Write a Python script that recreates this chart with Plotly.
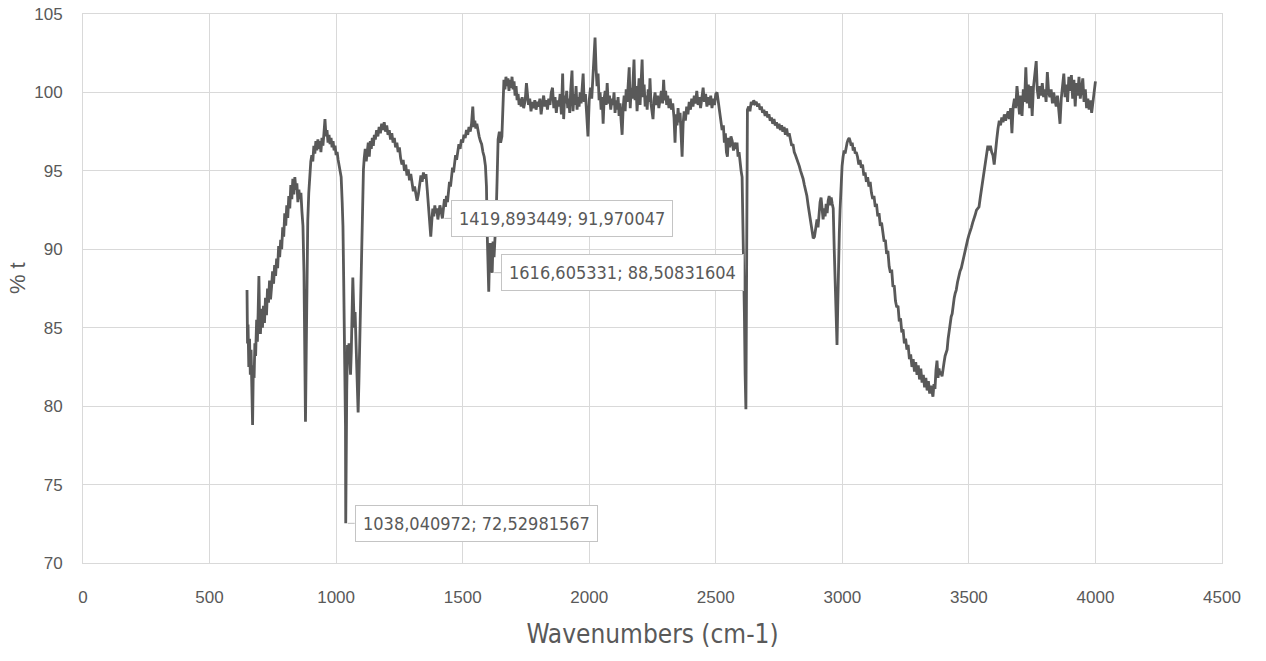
import plotly.graph_objects as go

wavenumbers = [
    648, 650, 652, 655, 658, 661, 664, 667, 670, 673, 676, 679, 682, 686, 689, 692, 695, 698, 701, 705,
    709, 713, 717, 721, 725, 729, 733, 737, 741, 745, 749, 753, 757, 761, 765, 769, 773, 777, 781, 785,
    789, 793, 797, 801, 805, 809, 813, 817, 821, 825, 829, 833, 837, 841, 845, 849, 853, 857, 861, 865,
    869, 873, 876, 879, 882, 885, 888, 892, 896, 900,
    904, 908, 912, 916, 920, 924, 928, 932, 936, 940, 944, 948, 952, 956, 960, 964, 968, 972, 976, 980,
    984, 988, 992, 996, 1000, 1004, 1008, 1012, 1016, 1020, 1024, 1027, 1030, 1033, 1035, 1037, 1038.04,
    1040, 1042, 1045, 1048, 1051, 1054, 1057, 1060, 1063, 1066, 1069, 1072, 1075, 1078, 1081, 1084, 1087,
    1090, 1093, 1096, 1099, 1102, 1105, 1108, 1111, 1115, 1119, 1123, 1127, 1131, 1135, 1139, 1143, 1147,
    1151, 1155, 1160, 1165, 1170, 1175, 1180, 1185, 1190, 1195, 1200, 1205, 1210, 1215, 1220, 1225, 1230,
    1235, 1240, 1245, 1250, 1255, 1260, 1265, 1270, 1275, 1280, 1285, 1290, 1295, 1300, 1305, 1310, 1315,
    1320, 1325, 1330, 1335, 1340, 1345, 1350, 1355, 1360, 1365, 1370, 1374, 1378, 1382, 1386, 1390, 1394,
    1398, 1402, 1406, 1410, 1415, 1419.89, 1424, 1428, 1432, 1436, 1440, 1444, 1448, 1452, 1456, 1460,
    1464, 1468, 1472, 1476, 1480, 1485, 1490, 1495, 1500, 1505, 1510, 1515, 1520, 1525, 1530, 1535, 1540,
    1544, 1548, 1552, 1556, 1560, 1565, 1570, 1575, 1580, 1585, 1590, 1594, 1597, 1600, 1603, 1606, 1609,
    1612, 1616.61, 1620, 1624, 1628, 1632, 1636, 1640, 1645, 1650, 1655, 1659, 1663, 1667, 1671, 1675,
    1679, 1683, 1687, 1691, 1695, 1699, 1703, 1707, 1711, 1715, 1719, 1723, 1727, 1731,
    1735, 1741, 1747, 1752, 1756, 1760, 1765, 1770, 1775, 1780, 1785, 1790, 1795, 1800, 1805, 1810, 1815,
    1820, 1825, 1830, 1835, 1840, 1845, 1850, 1855, 1860, 1865, 1870, 1875, 1880, 1885, 1890, 1895, 1899,
    1903, 1907, 1911, 1915, 1919, 1923, 1927, 1932, 1936, 1940, 1944, 1948, 1952, 1956, 1960, 1964, 1968,
    1972, 1976, 1980, 1985, 1990, 1995, 2000, 2005, 2010, 2015, 2019, 2023, 2027, 2031, 2035, 2039, 2043,
    2047, 2051, 2055, 2059, 2063, 2067, 2071, 2075, 2080, 2085, 2090, 2094, 2098, 2102, 2106, 2110, 2114,
    2118, 2122, 2126, 2130, 2134, 2138, 2142, 2146, 2150, 2154, 2158, 2162, 2166, 2170, 2174, 2177, 2181,
    2185, 2189, 2193, 2197, 2201, 2205, 2209, 2213, 2217, 2221, 2225, 2229, 2233, 2237, 2240, 2244, 2248,
    2252, 2256, 2260, 2265, 2270, 2275, 2280, 2285, 2290, 2294, 2298, 2302, 2306, 2310, 2315, 2320, 2325,
    2330, 2335, 2339, 2343, 2347, 2351, 2355, 2359, 2363, 2367, 2371, 2375, 2380, 2385, 2390, 2395, 2400,
    2405, 2410, 2415, 2420, 2425, 2430, 2435, 2440, 2445, 2450, 2455, 2460, 2465, 2470, 2475, 2480, 2485,
    2490, 2495, 2500, 2505, 2510, 2515, 2520, 2525, 2530, 2534, 2538, 2542, 2546, 2550, 2555, 2560, 2565,
    2570, 2575, 2580, 2584, 2588, 2592, 2596, 2600, 2604, 2607, 2610, 2613, 2616, 2619, 2621, 2623, 2625,
    2630, 2635, 2640, 2645, 2650, 2655, 2660, 2665, 2670, 2675, 2680, 2685, 2690, 2695, 2700, 2705, 2710,
    2715, 2720, 2725, 2730, 2735, 2740, 2745, 2750, 2755, 2760, 2765, 2770, 2775, 2780, 2785, 2790, 2795,
    2800, 2805, 2810, 2815, 2820, 2825, 2830, 2835, 2840, 2845, 2850, 2855, 2860, 2865, 2870, 2875, 2880,
    2885, 2890, 2895, 2900, 2904, 2908, 2912, 2916, 2920, 2924, 2928, 2932, 2936, 2940, 2944, 2948, 2952,
    2956, 2960, 2964, 2968, 2971, 2975, 2979, 2982, 2985, 2988, 2991, 2995, 2999, 3003, 3007, 3011, 3015,
    3019, 3023, 3027, 3031, 3035, 3039, 3043, 3047, 3051, 3055, 3060, 3065, 3070, 3075, 3080, 3085, 3090,
    3095, 3100, 3105, 3110, 3115, 3120, 3125, 3130, 3135, 3140, 3145, 3150, 3155, 3160, 3165, 3170, 3175,
    3180, 3185, 3190, 3195, 3200, 3205, 3210, 3215, 3220, 3225, 3230, 3235, 3240, 3245, 3250, 3255, 3260,
    3265, 3270, 3275, 3280, 3285, 3290, 3295, 3300, 3305, 3310, 3315, 3320, 3325, 3330, 3335, 3340, 3345,
    3350, 3355, 3358, 3362, 3366, 3370, 3374, 3378, 3382, 3386, 3390, 3394, 3398, 3402, 3406, 3410, 3414,
    3418, 3422, 3426, 3430, 3434, 3438, 3442, 3446, 3450, 3455, 3460, 3465, 3470, 3475, 3480, 3485, 3490,
    3495, 3500, 3505, 3510, 3515, 3520, 3525, 3530, 3535, 3540, 3545, 3550, 3555, 3560, 3565, 3570, 3575,
    3580, 3585, 3590, 3595, 3600, 3605, 3610, 3615, 3620, 3625, 3630, 3635, 3640, 3645, 3650, 3655, 3660,
    3665, 3670, 3675, 3680, 3685, 3690, 3695, 3700, 3705, 3710, 3715, 3720, 3725, 3730, 3735, 3740, 3745,
    3750, 3755, 3760, 3766, 3770, 3775, 3780, 3785, 3790, 3795, 3800, 3805, 3810, 3815, 3820, 3825, 3830,
    3835, 3840, 3845, 3850, 3855, 3860, 3865, 3870, 3875, 3880, 3885, 3890, 3895, 3900, 3905, 3910, 3915,
    3920, 3925, 3930, 3935, 3940, 3945, 3950, 3955, 3960, 3965, 3970, 3975, 3980, 3985, 3990, 3995, 4000,
]

transmittance = [
    87.4, 84.0, 85.2, 82.5, 84.3, 82.0, 83.6, 81.2, 78.8, 82.6, 81.8, 84.0, 83.2, 85.5, 84.1, 86.0, 88.3, 85.2, 84.6, 86.2,
    85.0, 86.4, 85.3, 86.9, 85.8, 87.5, 86.6, 88.0, 86.8, 87.6, 88.6, 87.8, 89.0, 88.3, 89.4, 88.8, 90.2, 89.5, 90.6, 90.0,
    91.4, 90.8, 92.3, 91.5, 92.8, 92.0, 93.4, 92.6, 94.1, 93.2, 94.5, 93.5, 94.6, 93.8, 94.2, 93.0, 93.8, 93.2, 93.6, 92.4,
    91.5, 88.5, 84.0, 79.0, 83.5, 88.6, 91.8, 93.6, 94.8, 95.6,
    96.0, 95.6, 96.6, 96.1, 96.9, 96.3, 97.0, 96.4, 96.9, 96.2, 97.1, 96.6, 97.4, 98.3, 97.2, 97.6, 96.8, 97.3, 96.7, 97.1,
    96.5, 96.9, 96.3, 96.6, 96.0, 96.2, 95.7, 95.4, 95.0, 94.6, 93.0, 91.5, 88.0, 84.5, 81.5, 78.7, 72.53,
    78.5, 81.0, 83.9, 83.2, 84.0, 82.5, 82.0, 83.5, 85.8, 88.2, 86.5, 85.0, 86.0, 84.0, 82.0, 80.4, 79.6,
    81.5, 84.0, 86.0, 88.5, 91.7, 94.0, 95.1, 95.8, 96.4, 95.6, 96.5, 96.8, 95.9, 96.9, 96.4, 97.1, 96.6,
    97.3, 97.0, 97.6, 97.2, 97.8, 97.4, 98.0, 97.6, 98.1, 97.5, 97.9, 97.3, 97.6, 97.0, 97.4, 96.8, 97.1,
    96.5, 96.8, 96.2, 96.5, 95.8, 95.4, 95.7, 95.0, 95.4, 94.7, 95.1, 94.4, 94.8, 94.1, 93.7, 94.0, 93.4,
    93.1, 93.5, 94.2, 94.7, 94.3, 94.9, 94.5, 94.8, 93.8, 92.8, 91.5, 90.8, 91.8, 92.6, 92.1, 92.8, 92.3,
    92.6, 91.9, 92.3, 92.8, 92.4, 91.97, 92.6, 93.2, 92.7, 93.4, 93.0, 93.6, 94.3, 94.0, 94.8, 95.2,
    94.9, 95.6, 96.0, 95.7, 96.3, 96.7, 96.4, 97.0, 96.8, 97.3, 97.1, 97.6, 97.3, 97.8, 97.5, 98.0, 99.1,
    97.8, 98.2, 97.7, 98.0, 97.6, 97.2, 96.9, 96.7, 96.2, 95.9, 95.3, 94.0, 91.0, 88.0, 87.3, 89.5, 90.4,
    88.9, 88.51, 90.5, 89.5, 90.8, 92.0, 94.4, 97.0, 97.5, 96.8, 97.2, 100.0, 100.8, 100.2, 101.0, 100.4,
    100.9, 100.1, 100.8, 100.3, 101.0, 100.2, 100.7, 99.8, 100.4, 99.5, 99.9, 99.2, 99.6, 99.1,
    99.7, 99.0, 99.5, 100.6, 99.8, 99.2, 99.6, 98.8, 99.4, 99.0, 99.5, 98.9, 99.4, 99.1, 99.6, 98.6, 99.3,
    99.8, 99.1, 99.5, 98.9, 99.6, 99.2, 100.0, 100.3, 99.0, 99.7, 98.7, 99.5, 99.1, 99.9, 98.6, 101.2, 98.3,
    99.8, 99.3, 100.1, 99.0, 99.6, 98.7, 100.2, 101.4, 98.8, 99.9, 99.2, 100.4, 98.9, 99.7, 99.1, 100.0, 99.3,
    100.8, 101.2, 99.4, 99.9, 98.6, 97.2, 99.5, 100.3, 99.6, 101.0, 101.8, 103.5, 101.5, 100.4, 101.2, 99.5, 100.0,
    98.9, 99.7, 98.0, 99.6, 100.1, 99.2, 100.6, 99.3, 99.8, 98.9, 99.6, 99.2, 100.0, 98.7, 99.5, 98.9, 99.7,
    98.5, 99.3, 98.2, 97.3, 99.0, 99.8, 98.8, 100.2, 99.4, 100.7, 101.6, 99.0, 100.3, 99.6, 101.4, 102.1, 99.5,
    100.4, 98.8, 99.6, 100.9, 99.2, 100.3, 102.1, 99.7, 100.5, 99.1, 99.8, 98.9, 100.2, 99.4, 100.9, 99.3, 98.7,
    98.3, 99.5, 100.0, 99.2, 99.8, 99.0, 99.6, 100.1, 99.3, 100.8, 99.5, 100.1, 99.2, 99.8, 99.0, 99.6, 98.9,
    99.3, 98.4, 96.8, 98.6, 97.9, 99.0, 98.1, 98.7, 97.5, 95.9, 98.0, 98.8, 98.2, 99.1, 98.6, 99.4, 98.9,
    99.6, 99.1, 99.8, 99.3, 100.1, 99.2, 99.7, 99.0, 99.8, 100.3, 99.4, 99.9, 99.1, 99.7, 99.2, 99.8, 99.0,
    99.6, 99.2, 99.9, 100.0, 99.3, 99.0, 98.2, 97.6, 97.9, 96.8, 97.4, 96.2, 95.9, 97.1, 96.5, 97.2, 96.9,
    96.3, 96.8, 96.4, 96.8, 95.9, 96.2, 95.3, 95.0, 94.6, 92.2, 89.0, 86.0, 82.0, 79.8, 86.0, 95.0, 98.9,
    99.1, 98.8, 99.4, 99.2, 99.5, 99.3, 99.4, 99.1, 99.3, 98.9, 99.1, 98.7, 98.9, 98.5, 98.8, 98.4, 98.6,
    98.2, 98.4, 98.0, 98.3, 97.9, 98.1, 97.7, 98.0, 97.6, 97.9, 97.5, 97.8, 97.3, 97.7, 97.2, 97.4, 96.9,
    96.6, 96.7, 96.2, 96.0, 95.8, 95.6, 95.3, 95.0, 94.8, 94.5, 94.1, 93.8, 93.4, 92.8, 92.2, 91.6, 91.0,
    90.7, 90.8, 91.3, 91.9, 91.4, 92.4, 93.0, 93.3, 92.3, 91.9, 92.6, 92.1, 92.9, 92.3, 93.1, 93.4, 92.8,
    93.3, 92.9, 92.6, 90.0, 88.2, 85.5, 83.9, 86.5, 89.5, 91.0, 92.5, 94.2, 95.3, 95.9, 96.3, 96.1, 96.6,
    96.8, 97.0, 97.1, 96.9, 96.6, 96.8, 96.3, 96.5, 96.1, 96.2, 95.9, 95.4, 95.7, 95.2, 95.4, 94.7, 94.9,
    94.3, 94.6, 94.0, 94.3, 93.6, 93.2, 93.4, 92.7, 92.9, 92.1, 92.3, 91.5, 91.7, 90.9, 90.5, 90.6, 89.7,
    89.9, 88.9, 88.5, 88.7, 87.6, 87.7, 86.7, 86.3, 86.4, 85.4, 85.6, 84.7, 84.9, 84.0, 84.3, 83.6, 83.9,
    83.0, 83.3, 82.5, 83.0, 82.2, 82.8, 82.0, 82.6, 81.7, 82.4, 81.5, 82.0, 81.2, 81.8, 81.0, 81.6, 80.8,
    81.3, 80.7, 80.6, 81.4, 81.1, 82.3, 82.9, 81.8, 82.4, 82.0, 82.2, 81.9, 82.6, 82.8, 83.2, 83.5, 83.6,
    84.3, 84.8, 85.2, 85.7, 85.9, 86.5, 86.9, 87.2, 87.4, 87.9, 88.3, 88.6, 88.8, 89.2, 89.6, 90.0, 90.3,
    90.6, 90.9, 91.1, 91.4, 91.7, 91.9, 92.2, 92.5, 92.6, 92.7, 93.3, 93.9, 94.2, 94.8, 95.6, 96.3, 96.6,
    96.3, 96.6, 96.2, 96.0, 95.4, 96.5, 97.0, 97.7, 98.2, 97.9, 98.4, 98.1, 98.6, 98.2, 98.5, 98.8, 98.3,
    99.0, 97.4, 99.1, 99.6, 99.0, 100.4, 99.6, 98.6, 99.8, 98.5, 100.2, 99.4, 101.6, 99.3, 100.5, 99.0, 100.4,
    98.5, 100.3, 101.1, 102.0, 100.2, 99.6, 100.4, 99.8, 100.6, 99.7, 100.2, 99.4, 101.3, 100.0, 99.7, 100.2, 99.3,
    100.0, 99.5, 99.1, 99.8, 98.9, 98.0, 99.6, 100.4, 101.2, 99.7, 100.5, 99.4, 101.0, 100.1, 101.1, 99.6, 100.8,
    99.1, 100.6, 99.8, 101.0, 99.6, 100.3, 100.9, 99.4, 100.2, 99.0, 99.6, 98.9, 99.5, 98.7, 99.4, 99.8, 100.7,
]

label_x = [1038.040972, 1419.893449, 1616.605331]
label_y = [72.52981567, 91.970047, 88.50831604]
label_text = ["1038,040972; 72,52981567", "1419,893449; 91,970047", "1616,605331; 88,50831604"]

x_ticks = [0, 500, 1000, 1500, 2000, 2500, 3000, 3500, 4000, 4500]
y_ticks = [70, 75, 80, 85, 90, 95, 100, 105]

assert len(wavenumbers) == len(transmittance)

FONT = "Liberation Sans"
NARROW = "DejaVu Sans Condensed, Liberation Sans"
TXT = "#595959"
GRID = "#d9d9d9"

fig = go.Figure()
fig.add_trace(go.Scatter(
    x=wavenumbers, y=transmittance, mode="lines",
    line=dict(color="#595959", width=2.8),
    showlegend=False, hoverinfo="x+y",
))

for lx, ly, lt in zip(label_x, label_y, label_text):
    fig.add_annotation(
        x=lx, y=ly, text=lt, showarrow=True,
        arrowhead=0, arrowwidth=1, arrowcolor="#bfbfbf", standoff=2,
        ax=9, ay=0, axref="pixel", ayref="pixel",
        xanchor="left", yanchor="middle",
        bgcolor="white", bordercolor="#c4c4c4", borderwidth=1, borderpad=7,
        font=dict(family=NARROW, size=18, color=TXT),
    )

# y-axis title placed like the reference (slightly above the plot centre)
fig.add_annotation(
    text="% t", xref="paper", yref="paper", x=0, y=0.519,
    xshift=-66, showarrow=False, textangle=-90,
    xanchor="center", yanchor="middle",
    font=dict(family=FONT, size=22, color=TXT),
)

fig.update_layout(
    width=1266, height=661,
    margin=dict(l=83, r=44, t=14, b=98),
    paper_bgcolor="white", plot_bgcolor="white",
    font=dict(family=FONT, color=TXT, size=17),
    xaxis=dict(
        range=[0, 4500], tickvals=x_ticks, ticktext=[str(v) for v in x_ticks],
        showgrid=True, gridcolor=GRID, gridwidth=1, zeroline=False,
        showline=True, linecolor=GRID, mirror=True, automargin=False,
        ticks="", ticklabelstandoff=19,
        tickfont=dict(family=FONT, size=17, color=TXT),
        title=dict(text="Wavenumbers (cm-1)", font=dict(family=NARROW, size=26, color=TXT), standoff=18),
    ),
    yaxis=dict(
        range=[70, 105], tickvals=y_ticks, ticktext=[str(v) for v in y_ticks],
        showgrid=True, gridcolor=GRID, gridwidth=1, zeroline=False,
        showline=True, linecolor=GRID, mirror=True, automargin=False,
        ticks="", ticklabelstandoff=16,
        tickfont=dict(family=FONT, size=17, color=TXT),
    ),
)

fig.write_html("out.html")
